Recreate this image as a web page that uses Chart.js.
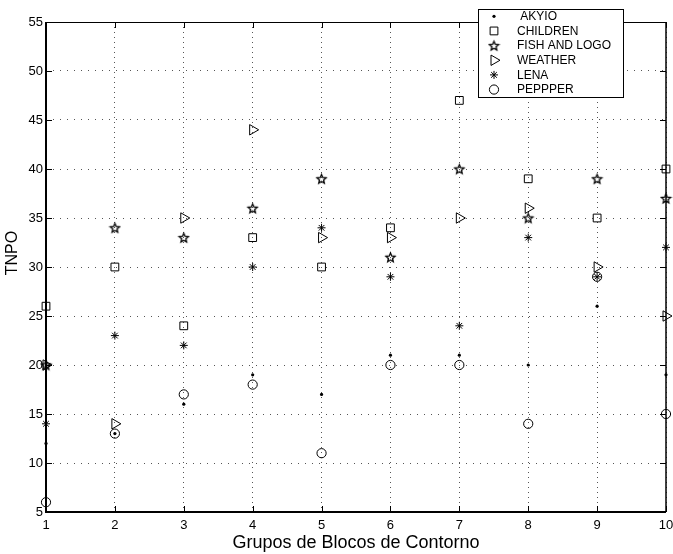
<!DOCTYPE html>
<html>
<head>
<meta charset="utf-8">
<script src="https://cdn.jsdelivr.net/npm/chart.js@4.4.1/dist/chart.umd.min.js"></script>
<style>
  html, body { margin: 0; padding: 0; background: #fff; }
  #wrap { position: relative; width: 673px; height: 554px; }
</style>
</head>
<body>
<div id="wrap"><canvas id="c" width="673" height="554"></canvas></div>
<script>
// Contour block groups (x) and TNPO per test sequence (y)
const groups      = [1, 2, 3, 4, 5, 6, 7, 8, 9, 10];
const akyio       = [12, 13, 16, 19, 17, 21, 21, 20, 26, 19];
const children    = [26, 30, 24, 33, 30, 34, 47, 39, 35, 40];
const fishAndLogo = [20, 34, 33, 36, 39, 31, 40, 35, 39, 37];
const weather     = [20, 14, 35, 44, 33, 33, 35, 36, 30, 25];
const lena        = [14, 23, 22, 30, 34, 29, 24, 33, 29, 32];
const peppper     = [6, 13, 17, 18, 11, 20, 20, 14, 29, 15];
const seriesNames = [' AKYIO', 'CHILDREN', 'FISH AND LOGO', 'WEATHER', 'LENA', 'PEPPPER'];
const xTickValues = [1, 2, 3, 4, 5, 6, 7, 8, 9, 10];
const yTickValues = [5, 10, 15, 20, 25, 30, 35, 40, 45, 50, 55];
const xTitle = 'Grupos de Blocos de Contorno';
const yTitle = 'TNPO';

const FONT = '"Liberation Sans", Arial, Helvetica, sans-serif';

// five-pointed outline star marker
function pentagram(r) {
  const s = 2 * Math.ceil(r) + 3;
  const c = document.createElement('canvas');
  c.width = s; c.height = s;
  const g = c.getContext('2d');
  g.translate(s / 2, s / 2 + 0.5);
  g.beginPath();
  for (let i = 0; i < 10; i++) {
    const rad = i % 2 ? r * 0.45 : r;
    const a = -Math.PI / 2 + i * Math.PI / 5;
    g.lineTo(rad * Math.cos(a), rad * Math.sin(a));
  }
  g.closePath();
  g.lineWidth = 1.3;
  g.lineJoin = 'miter';
  g.strokeStyle = '#000';
  g.stroke();
  return c;
}

function pts(vals) { return groups.map((g, i) => ({ x: g, y: vals[i] })); }

const markerDefs = [
  { vals: akyio,       style: 'circle',   radius: 1.6, fill: '#000',        rotation: 0 },
  { vals: children,    style: 'rect',     radius: 5.5, fill: 'transparent', rotation: 0 },
  { vals: fishAndLogo, style: pentagram(4.8), radius: 5, fill: 'transparent', rotation: 0 },
  { vals: weather,     style: 'triangle', radius: 6,   fill: 'transparent', rotation: 90 },
  { vals: lena,        style: 'star',     radius: 4,   fill: 'transparent', rotation: 0 },
  { vals: peppper,     style: 'circle',   radius: 4.6, fill: 'transparent', rotation: 0 }
];

const datasets = markerDefs.map((m, i) => ({
  label: seriesNames[i],
  data: pts(m.vals),
  showLine: false,
  clip: false,
  pointStyle: m.style,
  pointRadius: m.radius,
  pointRotation: m.rotation,
  pointBackgroundColor: m.fill,
  pointBorderColor: '#000',
  pointBorderWidth: i === 0 ? 0 : 1
}));

// axes box with inward tick marks on all four sides
const boxPlugin = {
  id: 'box',
  beforeDatasetsDraw(chart) {
    const { ctx, chartArea: a, scales } = chart;
    const xs = scales.x, ys = scales.y;
    ctx.save();
    ctx.strokeStyle = '#000';
    ctx.lineWidth = 1;
    ctx.beginPath();
    xs.ticks.forEach(t => {
      const px = Math.round(xs.getPixelForValue(t.value)) + 0.5;
      ctx.moveTo(px, a.bottom); ctx.lineTo(px, a.bottom - 6);
      ctx.moveTo(px, a.top); ctx.lineTo(px, a.top + 6);
    });
    ys.ticks.forEach(t => {
      const py = Math.round(ys.getPixelForValue(t.value)) + 0.5;
      ctx.moveTo(a.left, py); ctx.lineTo(a.left + 6, py);
      ctx.moveTo(a.right, py); ctx.lineTo(a.right - 6, py);
    });
    ctx.stroke();
    ctx.lineWidth = 1;
    ctx.beginPath();
    ctx.moveTo(a.left, Math.round(a.top) + 0.5); ctx.lineTo(a.right, Math.round(a.top) + 0.5);
    ctx.stroke();
    ctx.lineWidth = 1.5;
    ctx.beginPath();
    ctx.moveTo(Math.round(a.right), a.top); ctx.lineTo(Math.round(a.right), a.bottom);
    ctx.stroke();
    ctx.lineWidth = 2;
    ctx.beginPath();
    ctx.moveTo(Math.round(a.left), a.top); ctx.lineTo(Math.round(a.left), a.bottom + 1);
    ctx.moveTo(a.left - 1, Math.round(a.bottom)); ctx.lineTo(a.right, Math.round(a.bottom));
    ctx.stroke();
    ctx.restore();
  },
  afterDraw(chart) {
    const ctx = chart.ctx;
    // y-axis title
    ctx.save();
    ctx.translate(13, 253);
    ctx.rotate(-Math.PI / 2);
    ctx.fillStyle = '#000';
    ctx.font = '16px ' + FONT;
    ctx.textAlign = 'center';
    ctx.textBaseline = 'middle';
    ctx.fillText(yTitle, 0, 0);
    ctx.restore();

    // legend box
    const bx = 478, by = 9, bw = 145, bh = 88;
    ctx.save();
    ctx.fillStyle = '#fff';
    ctx.fillRect(bx, by, bw, bh);
    ctx.strokeStyle = '#000';
    ctx.lineWidth = 1;
    ctx.strokeRect(bx + 0.5, by + 0.5, bw, bh);
    ctx.font = '12px ' + FONT;
    ctx.textBaseline = 'middle';
    ctx.textAlign = 'left';
    const drawPoint = Chart.helpers && Chart.helpers.drawPoint;
    chart.data.datasets.forEach((ds, i) => {
      const y = 16.3 + i * 14.65;
      ctx.fillStyle = ds.pointBackgroundColor;
      ctx.strokeStyle = '#000';
      ctx.lineWidth = ds.pointBorderWidth;
      if (drawPoint) {
        drawPoint(ctx, {
          pointStyle: ds.pointStyle,
          rotation: ds.pointRotation,
          radius: ds.pointRadius,
          borderWidth: ds.pointBorderWidth
        }, 494, y);
      }
      ctx.fillStyle = '#000';
      ctx.fillText(ds.label, 517, y + 0.5);
    });
    ctx.restore();
  }
};

new Chart(document.getElementById('c'), {
  type: 'scatter',
  data: { datasets },
  options: {
    responsive: false,
    animation: false,
    events: [],
    layout: { padding: { top: 22, right: 5, left: 0, bottom: 0 } },
    plugins: { legend: { display: false }, tooltip: { enabled: false } },
    scales: {
      x: {
        type: 'linear',
        min: xTickValues[0],
        max: xTickValues[xTickValues.length - 1],
        afterBuildTicks(s) { s.ticks = xTickValues.map(v => ({ value: v })); },
        afterFit(s) { s.height = 42; s.paddingLeft = 0; s.paddingRight = 0; },
        grid: { color: '#555', lineWidth: 1, drawTicks: false, borderDash: [1, 4] },
        border: { display: false, dash: [1, 4] },
        ticks: { color: '#000', font: { family: FONT, size: 13 }, padding: 6, maxRotation: 0, autoSkip: false },
        title: { display: true, text: xTitle, color: '#000', font: { family: FONT, size: 18 }, padding: { top: 0, bottom: 0 } }
      },
      y: {
        type: 'linear',
        min: yTickValues[0],
        max: yTickValues[yTickValues.length - 1],
        afterBuildTicks(s) { s.ticks = yTickValues.map(v => ({ value: v })); },
        afterFit(s) { s.width = 46; s.paddingTop = 0; s.paddingBottom = 0; },
        grid: { color: '#555', lineWidth: 1, drawTicks: false, borderDash: [1, 6] },
        border: { display: false, dash: [1, 6] },
        ticks: { color: '#000', font: { family: FONT, size: 13 }, padding: 3, autoSkip: false }
      }
    }
  },
  plugins: [boxPlugin]
});
</script>
</body>
</html>
